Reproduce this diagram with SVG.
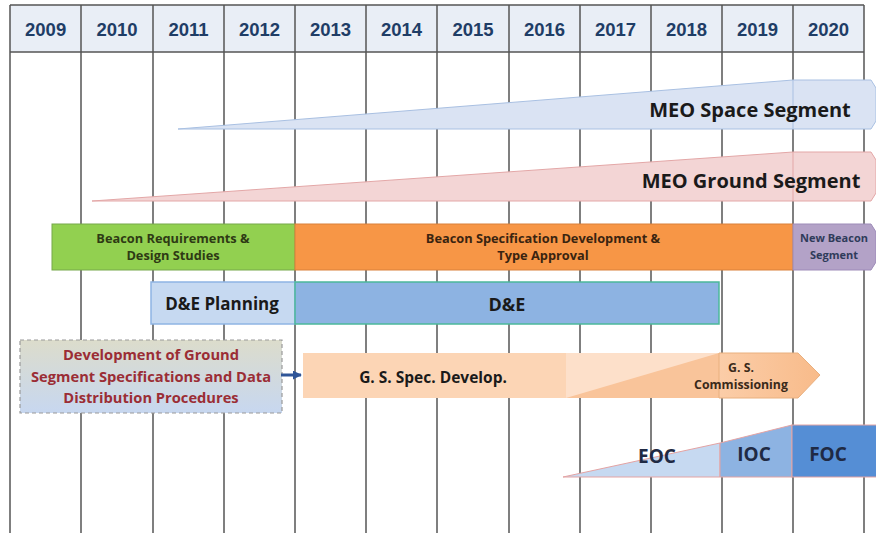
<svg xmlns="http://www.w3.org/2000/svg" width="876" height="533" viewBox="0 0 876 533">
<defs>
<style>
.yr{font-family:"Liberation Sans",Arial,sans-serif;font-weight:bold;font-size:18.5px;fill:#1f3d66;text-anchor:middle}
.grid{stroke:#555;stroke-width:1.5;fill:none}
.t{font-family:"Open Sans","Liberation Sans",sans-serif;font-weight:bold;text-anchor:middle;fill:#1a1a1a}
.red{fill:#9b2d35}
.grn{fill:#2e3a14}
.org{fill:#3a2410}
.pur{fill:#2f3b5a}
.brn{fill:#3a2a1a}
.blu{fill:#1f2a44}
</style>
<linearGradient id="dashfill" x1="0" y1="0" x2="0" y2="1">
<stop offset="0" stop-color="#dcdccb"/>
<stop offset="1" stop-color="#c7d7f0"/>
</linearGradient>
<linearGradient id="commfill" x1="0" y1="0" x2="1" y2="0">
<stop offset="0" stop-color="#fbcda8"/>
<stop offset="1" stop-color="#f8bb8a"/>
</linearGradient>
<marker id="arr" viewBox="0 0 10 10" refX="9" refY="5" markerWidth="3" markerHeight="3" orient="auto">
<path d="M0,0 L10,5 L0,10 z" fill="#2f5597"/>
</marker>
</defs>
<rect width="876" height="533" fill="#ffffff"/>
<g id="header">
<rect x="10" y="5" width="854" height="47" fill="#e9eef6"/>
<g class="yr">
<text x="45.6" y="36">2009</text>
<text x="117" y="36">2010</text>
<text x="188.5" y="36">2011</text>
<text x="259.5" y="36">2012</text>
<text x="330.5" y="36">2013</text>
<text x="401.5" y="36">2014</text>
<text x="473" y="36">2015</text>
<text x="544.5" y="36">2016</text>
<text x="615.5" y="36">2017</text>
<text x="686.5" y="36">2018</text>
<text x="757.5" y="36">2019</text>
<text x="828.5" y="36">2020</text>
</g>
</g>
<g id="grid" class="grid">
<line x1="10" y1="5" x2="864" y2="5"/>
<line x1="10" y1="52" x2="864" y2="52"/>
<line x1="10" y1="5" x2="10" y2="533"/>
<line x1="81" y1="5" x2="81" y2="533"/>
<line x1="153" y1="5" x2="153" y2="533"/>
<line x1="224" y1="5" x2="224" y2="533"/>
<line x1="295" y1="5" x2="295" y2="533"/>
<line x1="366" y1="5" x2="366" y2="533"/>
<line x1="437" y1="5" x2="437" y2="533"/>
<line x1="509" y1="5" x2="509" y2="533"/>
<line x1="580" y1="5" x2="580" y2="533"/>
<line x1="651" y1="5" x2="651" y2="533"/>
<line x1="722" y1="5" x2="722" y2="533"/>
<line x1="793" y1="5" x2="793" y2="533"/>
<line x1="864" y1="5" x2="864" y2="533"/>
</g>
<g id="meo-space">
<path d="M178,129 L793,80 L871,80 L876,88 L876,121 L871,129 Z" fill="#dae3f3" stroke="#a9c0e2" stroke-width="1"/>
<line x1="793" y1="80" x2="793" y2="129" stroke="#a9c0e2" stroke-width="1"/>
<text class="t" x="750" y="117" font-size="20">MEO Space Segment</text>
</g>
<g id="meo-ground">
<path d="M92,201 L793,152 L871,152 L876,160 L876,193 L871,201 Z" fill="#f3d5d5" stroke="#e3a7a7" stroke-width="1"/>
<line x1="793" y1="152" x2="793" y2="201" stroke="#e3a7a7" stroke-width="1"/>
<text class="t" x="751" y="188" font-size="20">MEO Ground Segment</text>
</g>
<g id="beacon-req">
<rect x="52" y="224" width="243" height="46" fill="#92d050" stroke="#76a84a" stroke-width="1"/>
<text class="t grn" x="173" y="243" font-size="12.8">Beacon Requirements &amp;</text>
<text class="t grn" x="173" y="260" font-size="12.8">Design Studies</text>
</g>
<g id="beacon-spec">
<rect x="295" y="224" width="498" height="46" fill="#f79646" stroke="#d9803a" stroke-width="1"/>
<text class="t org" x="543" y="243" font-size="12.8">Beacon Specification Development &amp;</text>
<text class="t org" x="543" y="260" font-size="12.8">Type Approval</text>
</g>
<g id="new-beacon">
<path d="M793,224 L871,224 L876,232 L876,262 L871,270 L793,270 Z" fill="#b3a2c7" stroke="#9d8bb8" stroke-width="1"/>
<text class="t pur" x="834" y="242" font-size="11">New Beacon</text>
<text class="t pur" x="834" y="259" font-size="11">Segment</text>
</g>
<g id="de-planning">
<rect x="151" y="282" width="144" height="42" fill="#c6d9f1" stroke="#8eb4e3" stroke-width="1.5"/>
<text class="t" x="222" y="310" font-size="17">D&amp;E Planning</text>
</g>
<g id="de">
<rect x="295" y="282" width="424" height="42" fill="#8db3e2" stroke="#4bb89a" stroke-width="1.5"/>
<text class="t" x="507" y="311" font-size="18">D&amp;E</text>
</g>
<g id="gs-dev-proc">
<rect x="20" y="340" width="262" height="73" fill="url(#dashfill)" stroke="#9a9a9a" stroke-width="1.2" stroke-dasharray="4,3"/>
<text class="t red" x="151" y="360" font-size="14.7">Development of Ground</text>
<text class="t red" x="151" y="382" font-size="14.7">Segment Specifications and Data</text>
<text class="t red" x="151" y="403" font-size="14.7">Distribution Procedures</text>
</g>
<g id="gs-spec">
<rect x="303" y="353" width="263" height="45" fill="#fcd5b5"/>
<rect x="566" y="353" width="153" height="45" fill="#fde0ca"/>
<path d="M566,398 L719,353 L719,398 Z" fill="#f9c49a"/>
<text class="t" x="433" y="383" font-size="15.5">G. S. Spec. Develop.</text>
</g>
<g id="gs-commissioning">
<path d="M719,353 L798,353 L820,375 L798,398 L719,398 Z" fill="url(#commfill)" stroke="#e9b07f" stroke-width="1"/>
<text class="t brn" x="741" y="372" font-size="12.3">G. S.</text>
<text class="t brn" x="741" y="389" font-size="12.3">Commissioning</text>
</g>
<g id="eoc">
<path d="M563,477 L720,443 L720,477 Z" fill="#c6d9f1" stroke="#e4a3a3" stroke-width="1"/>
<text class="t blu" x="657" y="463" font-size="19">EOC</text>
</g>
<g id="ioc">
<path d="M720,443 L792,425 L792,477 L720,477 Z" fill="#8db3e2" stroke="#e4a3a3" stroke-width="1"/>
<text class="t blu" x="754" y="461" font-size="19">IOC</text>
</g>
<g id="foc">
<rect x="792" y="425" width="86" height="52" fill="#558ed5" stroke="#e4a3a3" stroke-width="1"/>
<text class="t blu" x="828" y="461" font-size="19">FOC</text>
</g>
<g id="connectors">
<line x1="281" y1="375" x2="301" y2="375" stroke="#2f5597" stroke-width="3" marker-end="url(#arr)"/>
</g>
</svg>
